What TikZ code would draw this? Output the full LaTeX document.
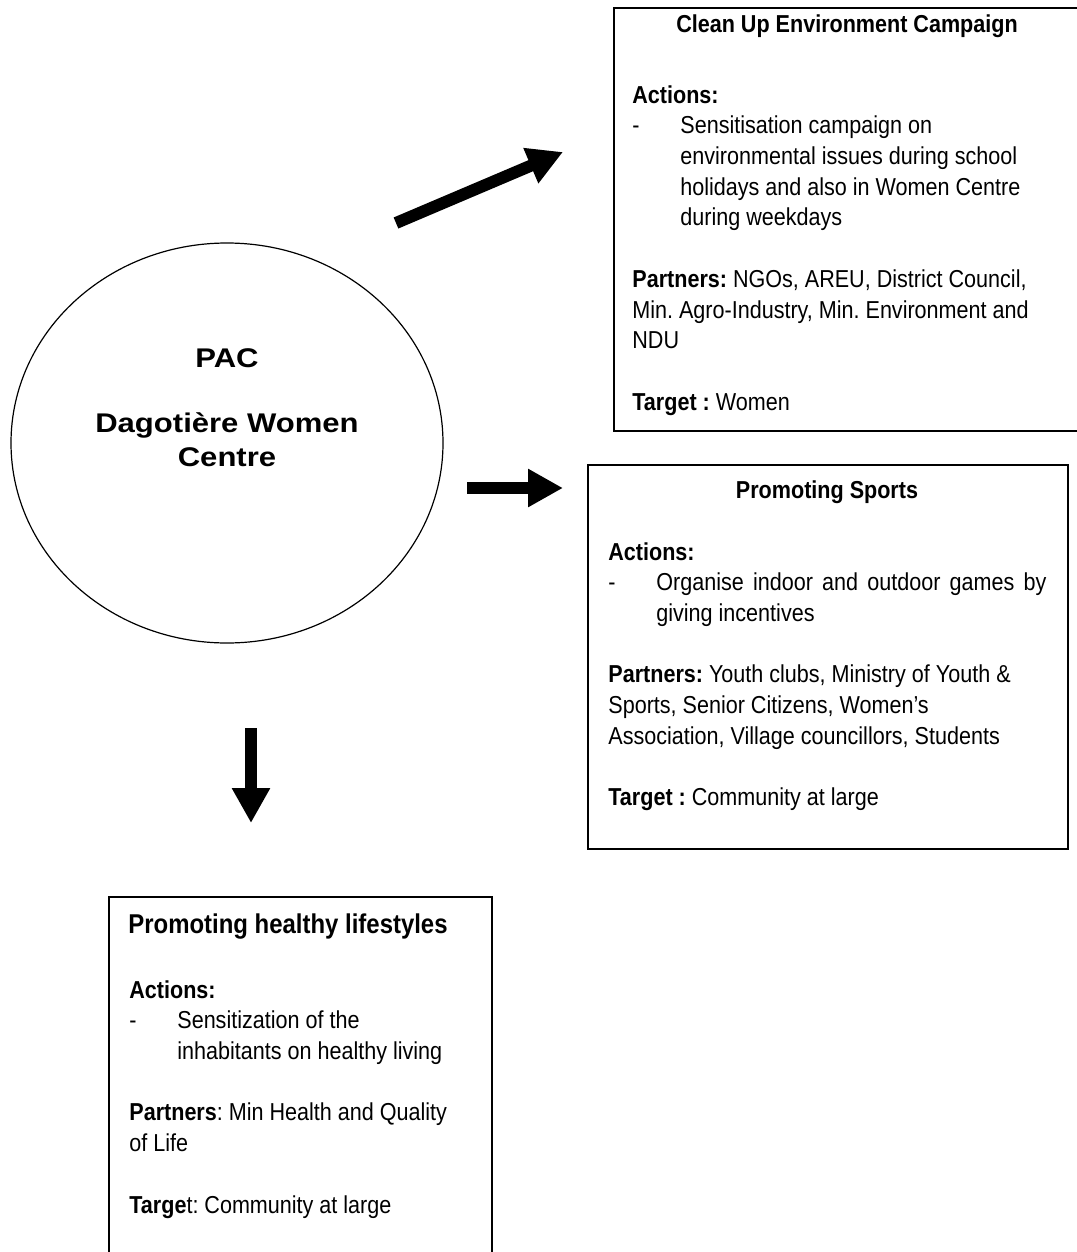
\documentclass[tikz,border=0pt]{standalone}
\usepackage{fontspec}
\setmainfont{Liberation Sans}[FakeStretch=0.88]
\newfontfamily\pacfont{Liberation Sans}[FakeStretch=1.15]
\usetikzlibrary{shapes.geometric, arrows.meta, positioning}
\frenchspacing
\newcommand{\dashmark}{\makebox[24pt][l]{-}}
\newcommand{\itemgap}{\hspace*{24pt}}
\tikzset{
    panel/.style={rectangle, draw, line width=1pt, anchor=north west, inner sep=0pt},
    panel_title/.style={font=\bfseries\fontsize{12.25pt}{15.35pt}\selectfont, anchor=base, inner sep=0pt},
    panel_text/.style={font=\fontsize{12.25pt}{15.35pt}\selectfont, align=left, anchor=north west, inner sep=0pt},
    fat_arrow/.style={line width=6pt, -{Triangle[length=17.5pt, width=18pt]}}
}

\begin{document}
\begin{tikzpicture}[x=0.5pt, y=-0.5pt]
        \useasboundingbox (0,0) rectangle (1076,1252);

        % Centre
        \node (PAC_circle) [ellipse, draw, line width=0.6pt, minimum width=216pt, minimum height=200pt, inner sep=0pt] at (227,443) {};
        \node (PAC_label) [font=\pacfont\bfseries\fontsize{13.5pt}{17pt}\selectfont, align=center, anchor=north, inner sep=0pt] at (227,348) {PAC\\[15.5pt]Dagotière Women\\Centre};

        % Clean up box
        \node (Clean_box) [panel, minimum width=234pt, minimum height=211.5pt] at (613,7) {};
        \node (Clean_title) [panel_title] at (847,33) {Clean Up Environment Campaign};
        \node (Clean_text) [panel_text] at (632,85) {\textbf{Actions:}\\
            \dashmark Sensitisation campaign on\\
            \itemgap environmental issues during school\\
            \itemgap holidays and also in Women Centre\\
            \itemgap during weekdays\\[15.35pt]
            \textbf{Partners:} NGOs, AREU, District Council,\\
            Min. Agro-Industry, Min. Environment and\\
            NDU\\[15.35pt]
            \textbf{Target :} Women};

        % Sports box
        \node (Sports_box) [panel, minimum width=240pt, minimum height=192pt] at (587,464) {};
        \node (Sports_title) [panel_title] at (827,498) {Promoting Sports};
        \node (Sports_text) [panel_text] at (608,542) {\textbf{Actions:}\\
            \dashmark\makebox[195pt][s]{Organise indoor and outdoor games by}\\
            \itemgap giving incentives\\[15.35pt]
            \textbf{Partners:} Youth clubs, Ministry of Youth \&\\
            Sports, Senior Citizens, Women’s\\
            Association, Village councillors, Students\\[15.35pt]
            \textbf{Target :} Community at large};

        % Health box
        \node (Health_box) [panel, minimum width=191.5pt, minimum height=183pt] at (108,896) {};
        \node (Health_title) [panel_title, anchor=base west, font=\bfseries\fontsize{13.6pt}{16pt}\selectfont] at (128,933) {Promoting healthy lifestyles};
        \node (Health_text) [panel_text] at (129,980) {\textbf{Actions:}\\
            \dashmark Sensitization of the\\
            \itemgap inhabitants on healthy living\\[15.35pt]
            \textbf{Partners}: Min Health and Quality\\
            of Life\\[15.35pt]
            \textbf{Targe}t: Community at large};

        % Arrows
        \coordinate (Clean_from) at (396,223);
        \coordinate (Clean_to) at (563,152);
        \coordinate (Sports_from) at (467,488);
        \coordinate (Sports_to) at (563,488);
        \coordinate (Health_from) at (251,728);
        \coordinate (Health_to) at (251,823);
        \draw[fat_arrow] (Clean_from) -- (Clean_to);
        \draw[fat_arrow] (Sports_from) -- (Sports_to);
        \draw[fat_arrow] (Health_from) -- (Health_to);

    \end{tikzpicture}
\end{document}
